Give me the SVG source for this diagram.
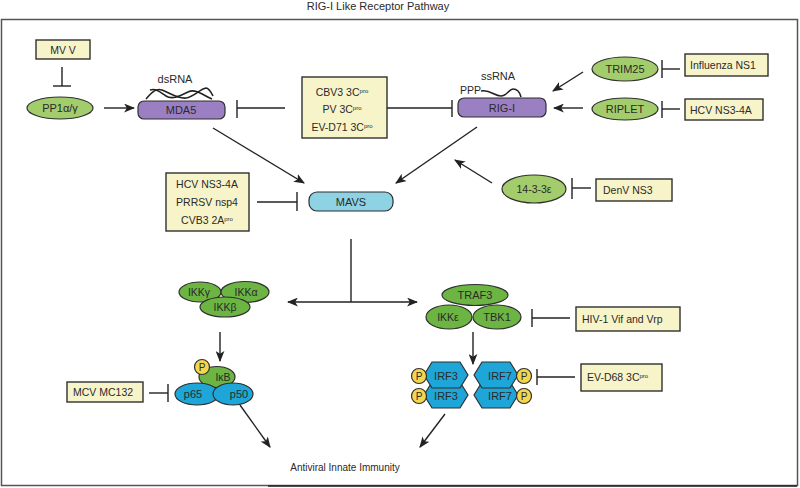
<svg xmlns="http://www.w3.org/2000/svg" width="800" height="488" viewBox="0 0 800 488">
<style>
text{font-family:"Liberation Sans",Arial,sans-serif;fill:#2a2a2a;}
.t{font-size:10.5px;}
.n{font-size:11px;}
.c{text-anchor:middle;}
.box{fill:#f8f4c9;stroke:#2f2f2f;stroke-width:1.4;}
.lg{fill:#a3cd6c;stroke:#2f2f2f;stroke-width:1.2;}
.dg{fill:#6cb543;stroke:#2f2f2f;stroke-width:1.2;}
.bl{fill:#1fa6d9;stroke:#2f2f2f;stroke-width:1.2;}
.pc{fill:#f4d64c;stroke:#2f2f2f;stroke-width:1.2;}
.ln{stroke:#222;stroke-width:1.4;fill:none;}
.ar{stroke:#222;stroke-width:1.4;fill:none;marker-end:url(#arr);}
.rna{stroke:#222;stroke-width:1.6;fill:none;}
.sup{font-size:6px;}
.p{font-size:10px;}
</style>
<defs>
<marker id="arr" viewBox="0 0 10 8" refX="9" refY="4" markerWidth="11" markerHeight="9" orient="auto-start-reverse" markerUnits="userSpaceOnUse">
<path d="M0,0 L10,4 L0,8 L2.5,4 z" fill="#222"/>
</marker>
</defs>
<rect x="0" y="0" width="800" height="488" fill="#fff"/>
<text x="378" y="10" class="c" style="font-size:11px">RIG-I Like Receptor Pathway</text>
<rect x="1.5" y="19.5" width="796" height="466" fill="none" stroke="#555" stroke-width="1.5"/>
<line x1="268" y1="486" x2="797" y2="486" stroke="#222" stroke-width="1.5"/>

<g id="connectors">
<line class="ln" x1="62" y1="67" x2="62" y2="86"/><line class="ln" x1="53" y1="86" x2="71" y2="86"/>
<line class="ar" x1="104" y1="108" x2="134" y2="108"/>
<line class="ln" x1="285" y1="108" x2="237" y2="108"/><line class="ln" x1="237" y1="100" x2="237" y2="118"/>
<line class="ln" x1="387" y1="108" x2="452" y2="108"/><line class="ln" x1="452" y1="100" x2="452" y2="117"/>
<line class="ar" x1="583" y1="72" x2="553" y2="91"/>
<line class="ar" x1="583" y1="108" x2="554" y2="108"/>
<line class="ln" x1="680" y1="69" x2="662" y2="69"/><line class="ln" x1="662" y1="60" x2="662" y2="78"/>
<line class="ln" x1="680" y1="109" x2="662" y2="109"/><line class="ln" x1="662" y1="101" x2="662" y2="118"/>
<line class="ar" x1="213" y1="128" x2="304" y2="183"/>
<line class="ar" x1="477" y1="127" x2="396" y2="183"/>
<line class="ar" x1="492" y1="183" x2="455" y2="160"/>
<line class="ln" x1="591" y1="188" x2="572" y2="188"/><line class="ln" x1="572" y1="178" x2="572" y2="199"/>
<line class="ln" x1="257" y1="202" x2="297" y2="202"/><line class="ln" x1="297" y1="192" x2="297" y2="211"/>
<line class="ln" x1="351" y1="239" x2="351" y2="302"/>
<line class="ln" x1="288" y1="302" x2="417" y2="302" style="marker-start:url(#arr);marker-end:url(#arr)"/>
<line class="ar" x1="220" y1="332" x2="220" y2="361"/>
<line class="ln" x1="149" y1="393" x2="168" y2="393"/><line class="ln" x1="168" y1="384" x2="168" y2="402"/>
<line class="ar" x1="240" y1="405" x2="270" y2="447"/>
<line class="ar" x1="473" y1="332" x2="473" y2="364"/>
<line class="ln" x1="570" y1="318" x2="532" y2="318"/><line class="ln" x1="532" y1="309" x2="532" y2="327"/>
<line class="ln" x1="575" y1="377" x2="537" y2="377"/><line class="ln" x1="537" y1="369" x2="537" y2="385"/>
<line class="ar" x1="445" y1="414" x2="420" y2="447"/>
</g>

<g id="mv-v"><rect class="box" x="36" y="40" width="54" height="19"/><text class="t c" x="63" y="53.5">MV V</text></g>
<g id="pp1"><ellipse class="lg" cx="60" cy="108" rx="33" ry="11"/><text class="n c" x="60" y="112">PP1α/γ</text></g>
<g id="mda5">
<rect x="138" y="101" width="87" height="18" rx="6" fill="#9a7fc3" stroke="#2f2f2f" stroke-width="1.2"/>
<text class="n c" x="181" y="114">MDA5</text>
<text class="n c" x="175" y="83">dsRNA</text>
<path class="rna" d="M146,99 C152,92 156,88 162,90 C170,93 178,99 186,98 C194,97 200,89 206,88 C209,88 211,92 213,96"/>
<path class="rna" d="M150,90 C156,88 160,92 166,96 C172,100 180,96 188,92 C196,88 204,96 212,99"/>
</g>
<g id="cbv3-box"><rect class="box" x="302" y="77" width="85" height="61"/>
<text class="t c" x="342" y="96">CBV3 3C<tspan class="sup" dy="-3.5">pro</tspan></text>
<text class="t c" x="342" y="113">PV 3C<tspan class="sup" dy="-3.5">pro</tspan></text>
<text class="t c" x="342" y="131">EV-D71 3C<tspan class="sup" dy="-3.5">pro</tspan></text>
</g>
<g id="rig-i">
<rect x="458" y="98" width="88" height="19" rx="6" fill="#9a7fc3" stroke="#2f2f2f" stroke-width="1.2"/>
<text class="n c" x="502" y="111.5">RIG-I</text>
<text class="n c" x="498" y="80">ssRNA</text>
<text class="t" x="460" y="94">PPP</text>
<path class="rna" d="M481,91 C490,89 494,96 501,96 C507,96 509,89 513,89 C518,89 520,93 521,97"/>
</g>
<g id="trim25"><ellipse class="lg" cx="625" cy="69" rx="33" ry="12"/><text class="n c" x="625" y="73">TRIM25</text></g>
<g id="influenza-ns1"><rect class="box" x="685" y="54" width="83" height="22"/><text class="t" x="690" y="69">Influenza NS1</text></g>
<g id="riplet"><ellipse class="lg" cx="625" cy="109" rx="33" ry="11"/><text class="n c" x="625" y="113">RIPLET</text></g>
<g id="hcv-ns3-4a-r"><rect class="box" x="685" y="99" width="78" height="21"/><text class="t" x="690" y="113.5">HCV NS3-4A</text></g>
<g id="p14-3-3e"><ellipse class="lg" cx="534" cy="189" rx="32" ry="14"/><text class="t c" x="534" y="192.5">14-3-3ε</text></g>
<g id="denv-ns3"><rect class="box" x="596" y="179" width="76" height="22"/><text class="t" x="603" y="193.5">DenV NS3</text></g>
<g id="hcv-box"><rect class="box" x="166" y="173" width="83" height="58"/>
<text class="t c" x="207" y="188">HCV NS3-4A</text>
<text class="t c" x="207" y="206">PRRSV nsp4</text>
<text class="t c" x="207" y="224">CVB3 2A<tspan class="sup" dy="-3.5">pro</tspan></text>
</g>
<g id="mavs"><rect x="309" y="192" width="84" height="19" rx="8" fill="#8dd3e3" stroke="#2f2f2f" stroke-width="1.2"/><text class="n c" x="351" y="205.5">MAVS</text></g>
<g id="ikk">
<ellipse class="dg" cx="200" cy="292" rx="21" ry="10"/>
<ellipse class="dg" cx="245" cy="292" rx="24" ry="10.5"/>
<ellipse class="dg" cx="225" cy="307" rx="25" ry="10"/>
<text class="t c" x="199" y="295.5">IKKγ</text>
<text class="t c" x="246" y="295.5">IKKα</text>
<text class="t c" x="225" y="310.5">IKKβ</text>
</g>
<g id="nfkb">
<ellipse class="dg" cx="217" cy="377" rx="18" ry="10.5"/>
<circle class="pc" cx="202" cy="367" r="7.5"/>
<text class="p c" x="202" y="370.5">P</text>
<text class="t c" x="223" y="381">IκB</text>
<ellipse class="bl" cx="197" cy="394" rx="22" ry="11"/>
<ellipse class="bl" cx="233" cy="394" rx="20" ry="11"/>
<text class="n c" x="193" y="398">p65</text>
<text class="n c" x="239" y="398">p50</text>
</g>
<g id="mcv-mc132"><rect class="box" x="67" y="382" width="76" height="20"/><text class="t" x="73" y="396">MCV MC132</text></g>
<g id="traf3">
<ellipse class="dg" cx="475" cy="295" rx="33" ry="10.5"/>
<ellipse class="dg" cx="449" cy="317" rx="23" ry="12"/>
<ellipse class="dg" cx="497" cy="317" rx="24" ry="12"/>
<text class="n c" x="475" y="299">TRAF3</text>
<text class="t c" x="448" y="320.5">IKKε</text>
<text class="n c" x="497" y="321">TBK1</text>
</g>
<g id="hiv-1"><rect class="box" x="576" y="307" width="104" height="24"/><text class="t" x="582" y="322.5">HIV-1 Vif and Vrp</text></g>
<g id="irf">
<polygon class="bl" points="424,395 432,382 460,382 468,395 460,408 432,408"/>
<polygon class="bl" points="424,375 432,362 460,362 468,375 460,388 432,388"/>
<polygon class="bl" points="474,395 482,382 510,382 518,395 510,408 482,408"/>
<polygon class="bl" points="474,375 482,362 510,362 518,375 510,388 482,388"/>
<text class="n c" x="446" y="379.5">IRF3</text>
<text class="n c" x="446" y="399.5">IRF3</text>
<text class="n c" x="500" y="379.5">IRF7</text>
<text class="n c" x="500" y="399.5">IRF7</text>
<circle class="pc" cx="419" cy="376" r="7.5"/><text class="p c" x="419" y="379.5">P</text>
<circle class="pc" cx="419" cy="396" r="7.5"/><text class="p c" x="419" y="399.5">P</text>
<circle class="pc" cx="524" cy="376" r="7.5"/><text class="p c" x="524" y="379.5">P</text>
<circle class="pc" cx="524" cy="396" r="7.5"/><text class="p c" x="524" y="399.5">P</text>
</g>
<g id="ev-d68"><rect class="box" x="581" y="364" width="81" height="27"/><text class="t" x="587" y="381">EV-D68 3C<tspan class="sup" dy="-3.5">pro</tspan></text></g>
<g id="antiviral"><text class="c" x="345" y="471" style="font-size:10px">Antiviral Innate Immunity</text></g>
</svg>
